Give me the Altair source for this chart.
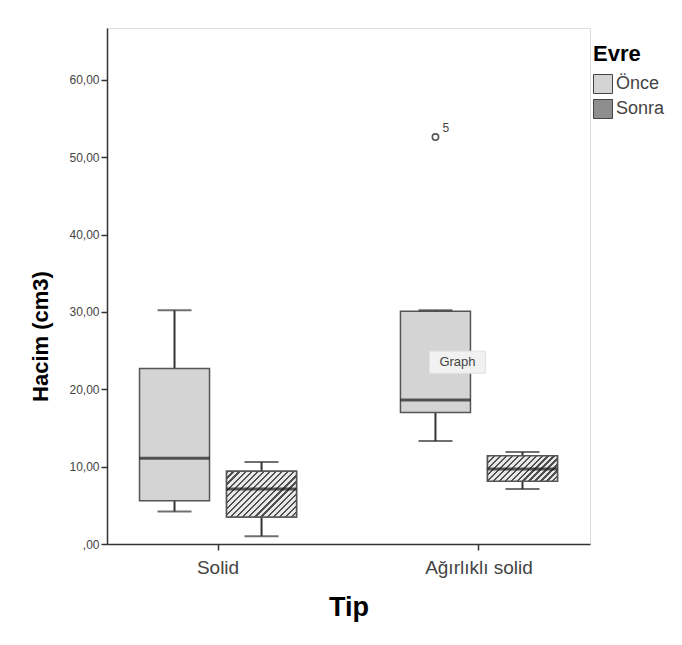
import math
import altair as alt
import pandas as pd

# ---- data ----
tips = ["Solid", "Solid", "Ağırlıklı solid", "Ağırlıklı solid"]
evre = ["Önce", "Sonra", "Önce", "Sonra"]
lower = [4.2, 1.0, 13.3, 7.1]
q1 = [5.6, 3.5, 17.0, 8.1]
median = [11.1, 7.1, 18.6, 9.7]
q3 = [22.7, 9.4, 30.1, 11.4]
upper = [30.2, 10.6, 30.2, 11.9]

outlier_tip = ["Ağırlıklı solid"]
outlier_evre = ["Önce"]
outlier_val = [52.6]
outlier_id = ["5"]

note_tip = ["Ağırlıklı solid"]
note_evre = ["Önce"]
note_val = [23.5]
note_text = ["Graph"]

tip_order = ["Solid", "Ağırlıklı solid"]
evre_order = ["Önce", "Sonra"]
y_ticks = [0, 10, 20, 30, 40, 50, 60]
y_max = 66.7

PLOT_W, PLOT_H = 483, 516
BOX_W = 70

box = pd.DataFrame({"Tip": tips, "Evre": evre, "lower": lower, "q1": q1,
                    "median": median, "q3": q3, "upper": upper})
outl = pd.DataFrame({"Tip": outlier_tip, "Evre": outlier_evre,
                     "value": outlier_val, "id": outlier_id})
note = pd.DataFrame({"Tip": note_tip, "Evre": note_evre, "value": note_val,
                     "text": note_text})

FONT = "Liberation Sans"

x_scale = alt.Scale(domain=tip_order, paddingInner=0.333, paddingOuter=0.092)
xo_scale = alt.Scale(domain=evre_order, paddingInner=0, paddingOuter=0)
y_scale = alt.Scale(domain=[0, y_max], nice=False, zero=True)

x_axis = alt.Axis(labelAngle=0, labelFontSize=19, labelColor="#444", labelPadding=8,
                  tickSize=6, tickColor="#333", tickWidth=1.5, domainColor="#333",
                  domainWidth=1.5, titleFontSize=27, titleFontWeight="bold",
                  titleColor="#000", titlePadding=17, grid=False, labelFont=FONT,
                  titleFont=FONT)
y_axis = alt.Axis(values=y_ticks,
                  labelExpr="datum.value == 0 ? ',00' : replace(format(datum.value, '.2f'), '.', ',')",
                  labelFontSize=12, labelColor="#444", labelPadding=2, tickSize=6,
                  tickColor="#333", tickWidth=1.5, domainColor="#333", domainWidth=1.5,
                  titleFontSize=22, titleFontWeight="bold", titleColor="#000",
                  titlePadding=16, titleY=308, grid=False, labelFont=FONT,
                  titleFont=FONT)


def X():
    return alt.X("Tip:N", scale=x_scale, axis=x_axis, title="Tip")


def XO():
    return alt.XOffset("Evre:N", scale=xo_scale)


def Y(field):
    return alt.Y(f"{field}:Q", scale=y_scale, axis=y_axis, title="Hacim (cm3)")


def hatch(box_h_px, box_w_px=BOX_W, period_px=6.0, dark="#505050",
          light="#e8e8e8", duty=0.36):
    k = box_h_px / box_w_px
    a = (1 + k) / (1 + k * k)
    diag = (box_w_px + box_h_px) / math.sqrt(2)
    n = max(1, round(diag / (period_px / math.sqrt(2))))
    stops = []
    for i in range(n):
        t0, t1, t2 = i / n, (i + duty) / n, (i + 1) / n
        stops += [alt.GradientStop(offset=t0, color=dark),
                  alt.GradientStop(offset=t1, color=dark),
                  alt.GradientStop(offset=t1, color=light),
                  alt.GradientStop(offset=min(t2, 1.0), color=light)]
    return alt.LinearGradient(gradient="linear", x1=0, y1=0, x2=a, y2=a * k,
                              stops=stops)


base = alt.Chart(box)

whisk_lo = base.mark_rule(color="#333", strokeWidth=2).encode(
    x=X(), xOffset=XO(), y=Y("lower"), y2="q1:Q")
whisk_hi = base.mark_rule(color="#333", strokeWidth=2).encode(
    x=X(), xOffset=XO(), y=Y("q3"), y2="upper:Q")

bars = base.mark_bar(size=BOX_W, stroke="#555", strokeWidth=1.5).encode(
    x=X(), xOffset=XO(), y=Y("q1"), y2="q3:Q",
    color=alt.Color("Evre:N", scale=alt.Scale(domain=evre_order,
                                              range=["#d4d4d4", "#8e8e8e"]),
                    legend=alt.Legend(title="Evre", orient="none", legendX=486,
                                      legendY=16, symbolType="square",
                                      symbolSize=361, symbolStrokeColor="#444",
                                      symbolStrokeWidth=1, labelFontSize=18,
                                      labelColor="#444", labelFont=FONT,
                                      titleFontSize=22, titleFontWeight="bold",
                                      titleColor="#000", titleFont=FONT,
                                      rowPadding=1, titlePadding=8,
                                      labelOffset=3)))

hatch_layers = []
for t, e, a, b in zip(tips, evre, q1, q3):
    if e != "Sonra":
        continue
    h_px = (b - a) * PLOT_H / y_max
    hatch_layers.append(
        base.transform_filter(
            (alt.datum.Tip == t) & (alt.datum.Evre == e)
        ).mark_bar(size=BOX_W, stroke="#555", strokeWidth=1.5,
                   fill=hatch(h_px)).encode(
            x=X(), xOffset=XO(), y=Y("q1"), y2="q3:Q"))

med = base.mark_tick(size=BOX_W, thickness=3, color="#1a1a1a").encode(
    x=X(), xOffset=XO(), y=Y("median"))
cap_lo = base.mark_tick(size=34, thickness=2, color="#333").encode(
    x=X(), xOffset=XO(), y=Y("lower"))
cap_hi = base.mark_tick(size=34, thickness=2, color="#333").encode(
    x=X(), xOffset=XO(), y=Y("upper"))

opoint = alt.Chart(outl).mark_point(shape="circle", size=40, filled=False,
                                    stroke="#555", strokeWidth=1.6, opacity=1).encode(
    x=X(), xOffset=XO(), y=Y("value"))
olabel = alt.Chart(outl).mark_text(dx=7, dy=-9, align="left", fontSize=12,
                                   color="#444", font=FONT).encode(
    x=X(), xOffset=XO(), y=Y("value"), text="id:N")

note_bg = alt.Chart(note).mark_point(
    shape="M-0.214,-0.393 L1.786,-0.393 L1.786,0.393 L-0.214,0.393 Z",
    size=3136, filled=True, fill="#f1f1f1", stroke="#e2e2e2", strokeWidth=1,
    opacity=1).encode(x=X(), xOffset=XO(), y=Y("value"))
note_txt = alt.Chart(note).mark_text(dx=22, fontSize=13, color="#444",
                                     font=FONT).encode(
    x=X(), xOffset=XO(), y=Y("value"), text="text:N")

chart = alt.layer(
    whisk_lo, whisk_hi, bars, *hatch_layers, med, cap_lo, cap_hi,
    opoint, olabel, note_bg, note_txt
).properties(
    width=PLOT_W, height=PLOT_H,
    padding={"left": 21, "top": 20, "right": 5, "bottom": 5},
    background="white",
).configure_view(stroke="#555", strokeWidth=1.5).configure(font=FONT)

chart.save("out.html", embed_options={"renderer": "svg", "actions": False})
